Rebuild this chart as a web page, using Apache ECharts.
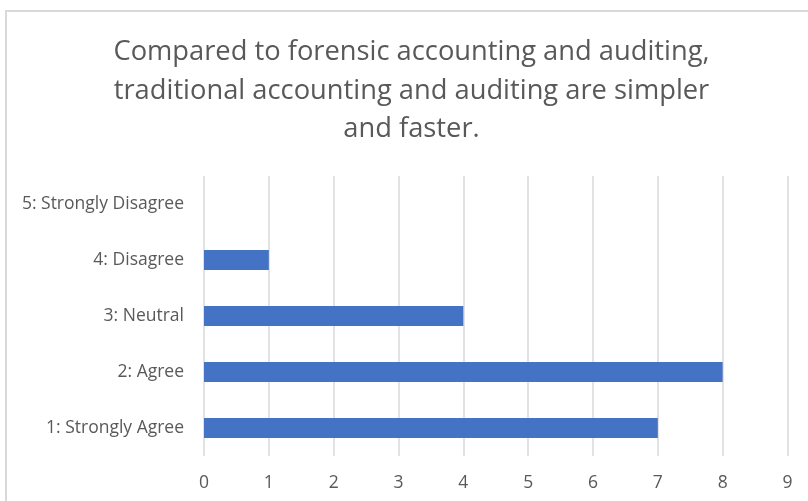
<!DOCTYPE html>
<html>
<head>
<meta charset="utf-8">
<script src="https://cdn.jsdelivr.net/npm/echarts@6/dist/echarts.min.js"></script>
<style>
html,body{margin:0;padding:0;background:#fff;}
#chart{width:808px;height:501px;}
</style>
</head>
<body>
<div id="chart"></div>
<script>
const titleText = "Compared to forensic accounting and auditing,\ntraditional accounting and auditing are simpler\nand faster.";
const categories = ["1: Strongly Agree", "2: Agree", "3: Neutral", "4: Disagree", "5: Strongly Disagree"];
const counts = [7, 8, 4, 1, 0];
const xMin = 0, xMax = 9, xStep = 1;

const chart = echarts.init(document.getElementById('chart'), null, {renderer: 'canvas'});
const font = '"Open Sans", sans-serif';
chart.setOption({
  animation: false,
  backgroundColor: '#ffffff',
  graphic: [{
    type: 'rect',
    shape: {x: 6, y: 11, width: 1000, height: 800},
    style: {fill: 'none', stroke: '#d9d9d9', lineWidth: 2},
    silent: true,
    z: -10
  }],
  title: {
    text: titleText,
    left: 406.5,
    top: 28,
    textAlign: 'center',
    textStyle: {
      fontFamily: font,
      fontSize: 27.3,
      fontWeight: 'normal',
      color: '#595959',
      lineHeight: 38.5
    }
  },
  grid: {left: 204, right: 20.5, top: 176, bottom: 45, containLabel: false},
  xAxis: {
    type: 'value',
    min: xMin, max: xMax, interval: xStep,
    axisLine: {show: false},
    axisTick: {show: false},
    splitLine: {show: true, lineStyle: {color: '#d9d9d9', width: 1.5}},
    axisLabel: {color: '#595959', fontFamily: font, fontSize: 17.5, margin: 18}
  },
  yAxis: {
    type: 'category',
    data: categories,
    axisLine: {show: false},
    axisTick: {show: false},
    splitLine: {show: false},
    axisLabel: {color: '#595959', fontFamily: font, fontSize: 17.5, margin: 20, padding: [2, 0, 0, 0]}
  },
  series: [{
    type: 'bar',
    data: counts,
    barWidth: 20,
    itemStyle: {color: '#4472c4'}
  }]
});
</script>
</body>
</html>
